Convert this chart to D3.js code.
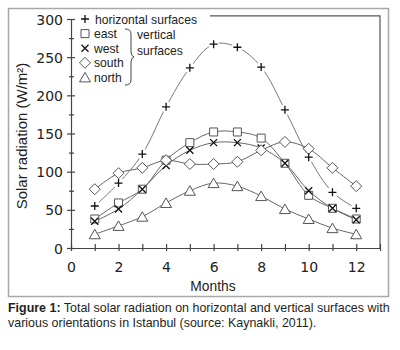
<!DOCTYPE html>
<html>
<head>
<meta charset="utf-8">
<script src="https://cdn.jsdelivr.net/npm/d3@7"></script>
<style>
    body { margin: 0; background: #fff; }
    svg { display: block; }
</style>
</head>
<body>
<script>
// values (W/m²)
var months = [1, 2, 3, 4, 5, 6, 7, 8, 9, 10, 11, 12];
var horizontal = [55, 85, 123, 185, 236, 267, 263, 237, 181, 119, 73, 52];
var east = [38, 59, 77, 115, 138, 152, 152, 144, 111, 69, 52, 38];
var west = [35, 51, 77, 108, 128, 138, 138, 131, 111, 75, 52, 37];
var south = [77, 98, 105, 115, 110, 110, 113, 128, 139, 130, 105, 81];
var north = [18, 29, 41, 59, 75, 85, 81, 68, 51, 38, 26, 18];

var xTicks = d3.range(0, 14);
var xLabels = [0, 2, 4, 6, 8, 10, 12];
var yTicks = d3.range(0, 301, 25);
var yLabels = [0, 50, 100, 150, 200, 250, 300];

var legendLabels = ["horizontal surfaces", "east", "west", "south", "north"];
var legendMarks = ["plus", "square", "cross", "diamond", "triangle"];
var braceLabels = ["vertical", "surfaces"];

var series = [
    { name: "east", mark: "square", values: east },
    { name: "west", mark: "cross", values: west },
    { name: "south", mark: "diamond", values: south },
    { name: "north", mark: "triangle", values: north }
];

var W = 400, H = 350;
var x = d3.scaleLinear().domain([0, 13]).range([71, 380]);
var y = d3.scaleLinear().domain([0, 300]).range([248, 19]);

var svg = d3.select("body").append("svg")
    .attr("width", W)
    .attr("height", H);

svg.append("rect").attr("width", W).attr("height", H).attr("fill", "#fff");

// figure frame
svg.append("rect")
    .attr("x", 8.5).attr("y", 8.5)
    .attr("width", 380).attr("height", 288)
    .attr("fill", "none")
    .attr("stroke", "#a8a8a8")
    .attr("stroke-width", 1.5);

function markPath(type) {
    switch (type) {
        case "square": return "M-4,-4H4V4H-4Z";
        case "diamond": return "M0,-5.5L5.5,0L0,5.5L-5.5,0Z";
        case "triangle": return "M0,-5L5.5,4.5H-5.5Z";
        case "cross": return "M-3.5,-3.5L3.5,3.5M-3.5,3.5L3.5,-3.5";
        case "plus": return "M-4,0H4M0,-4V4";
    }
}
function drawMark(g, type, cx, cy) {
    var open = (type == "square" || type == "diamond" || type == "triangle");
    g.append("path")
        .attr("transform", "translate(" + cx + "," + cy + ")")
        .attr("d", markPath(type))
        .attr("fill", open ? "#fff" : "none")
        .attr("stroke", open ? "#555" : "#111")
        .attr("stroke-width", open ? 1 : 1.3);
}
// narrow text: set the drawn width
function narrowText(g, str, tx, ty, size, k) {
    var t = g.append("text")
        .attr("x", tx).attr("y", ty)
        .attr("fill", "#222")
        .style("font", size + "px 'Liberation Sans'")
        .text(str);
    t.attr("textLength", t.node().getComputedTextLength() * k)
        .attr("lengthAdjust", "spacingAndGlyphs");
    return t;
}

// plot border (top and right)
var yTop = y(304);
svg.append("path")
    .attr("d", "M" + 210 + "," + yTop + "H" + x(13) + "V" + y(0))
    .attr("fill", "none")
    .attr("stroke", "#555")
    .attr("stroke-width", 1.2);

// axes
var yAxis = d3.axisLeft(y)
    .tickValues(yTicks)
    .tickSize(0)
    .tickSizeOuter(0)
    .tickPadding(8)
    .tickFormat(function (d) { return yLabels.indexOf(d) >= 0 ? d : ""; });
var gy = svg.append("g").attr("transform", "translate(" + x(0) + ",0)").call(yAxis);
gy.selectAll(".tick line")
    .attr("x1", function (d) { return yLabels.indexOf(d) >= 0 ? -4 : -2; })
    .attr("x2", function (d) { return yLabels.indexOf(d) >= 0 ? 4 : 3; });

var xAxis = d3.axisBottom(x)
    .tickValues(xTicks)
    .tickSize(0)
    .tickSizeOuter(0)
    .tickFormat(function (d) { return xLabels.indexOf(d) >= 0 ? d : ""; });
var gx = svg.append("g").attr("transform", "translate(0," + y(0) + ")").call(xAxis);
gx.selectAll(".tick line").attr("y1", -4).attr("y2", 3);
gx.selectAll(".tick text").attr("y", 24).attr("dy", 0);

svg.selectAll(".domain, .tick line").attr("stroke", "#444").attr("stroke-width", 1.2);
svg.selectAll(".tick text")
    .attr("fill", "#222")
    .style("font", "14px 'DejaVu Sans'");
gy.selectAll(".tick text").attr("dy", "0.36em");

// axis titles
svg.append("text")
    .attr("transform", "translate(27,136) rotate(-90)")
    .attr("text-anchor", "middle")
    .attr("fill", "#222")
    .style("font", "15px 'Liberation Sans'")
    .text("Solar radiation (W/m²)");

narrowText(svg, "Months", 213, 291, 15, 0.92).attr("text-anchor", "middle");

// series
var line = d3.line()
    .x(function (d, i) { return x(months[i]); })
    .y(function (d) { return y(d); })
    .curve(d3.curveCatmullRom);

var plot = svg.append("g");
plot.append("path")
    .attr("d", line(horizontal))
    .attr("fill", "none")
    .attr("stroke", "#777")
    .attr("stroke-width", 1);
// white gaps around the + markers
plot.selectAll("circle.halo")
    .data(horizontal).enter()
    .append("circle")
    .attr("class", "halo")
    .attr("cx", function (d, i) { return x(months[i]); })
    .attr("cy", function (d) { return y(d); })
    .attr("r", 5.5)
    .attr("fill", "#fff");

series.forEach(function (s) {
    plot.append("path")
        .attr("d", line(s.values))
        .attr("fill", "none")
        .attr("stroke", "#666")
        .attr("stroke-width", 1);
});
series.forEach(function (s) {
    s.values.forEach(function (v, i) {
        drawMark(plot, s.mark, x(months[i]), y(v));
    });
});
horizontal.forEach(function (v, i) {
    drawMark(plot, "plus", x(months[i]), y(v));
});

// legend (rows are tight, so a slightly smaller, wider-set font)
var legend = svg.append("g").attr("class", "legend");
legendLabels.forEach(function (lab, i) {
    var cy = 19 + i * 14.6;
    drawMark(legend, legendMarks[i], 85, cy);
    narrowText(legend, lab, i == 0 ? 95 : 94, cy + 4.5, 13, 0.935);
});
legend.append("path")
    .attr("d", "M125,29Q131,29 131,34V52Q131,56 134,57Q131,58 131,62V80Q131,85 125,85")
    .attr("fill", "none")
    .attr("stroke", "#444")
    .attr("stroke-width", 1);
braceLabels.forEach(function (lab, i) {
    narrowText(legend, lab, 137, 38.5 + i * 16, 13, 0.935);
});

// caption
var cap = svg.append("g").attr("fill", "#231f20").style("font", "13px 'Liberation Sans'");
var l1 = cap.append("text").attr("x", 0).attr("y", 312);
l1.append("tspan").style("font-weight", "bold").text("Figure 1:");
l1.append("tspan").text(" Total solar radiation on horizontal and vertical surfaces with");
cap.append("text").attr("x", 0).attr("y", 327.5)
    .text("various orientations in Istanbul (source: Kaynakli, 2011).");
var k = 382 / l1.node().getComputedTextLength();
cap.attr("transform", "translate(8,0) scale(" + k + ",1)");
</script>
</body>
</html>
